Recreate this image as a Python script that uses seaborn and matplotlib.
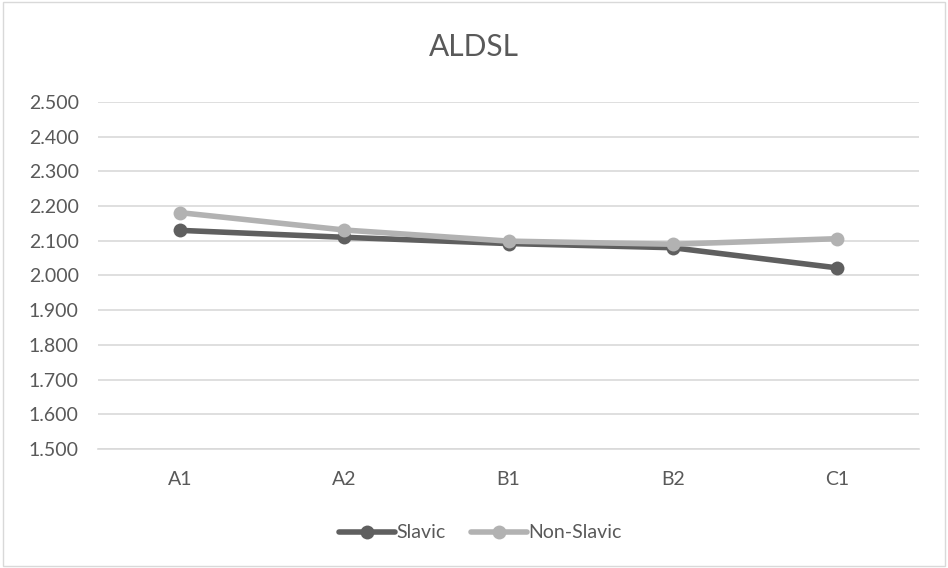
import matplotlib
matplotlib.use("Agg")
import matplotlib.pyplot as plt
import seaborn as sns
import pandas as pd

levels = ["A1", "A2", "B1", "B2", "C1"]
slavic = [2.130, 2.110, 2.092, 2.080, 2.022]
non_slavic = [2.181, 2.131, 2.099, 2.090, 2.106]
yticks = [1.5, 1.6, 1.7, 1.8, 1.9, 2.0, 2.1, 2.2, 2.3, 2.4, 2.5]

df = pd.DataFrame({
    "level": levels * 2,
    "value": slavic + non_slavic,
    "group": ["Slavic"] * 5 + ["Non-Slavic"] * 5,
})

sns.set_theme(style="white")
plt.rcParams['font.family'] = ['Lato', 'DejaVu Sans']

fig = plt.figure(figsize=(9.48, 5.68), dpi=100)
ax = fig.add_axes([0.1035, 0.2095, 0.866, 0.611])

palette = {"Slavic": "#5f5f5f", "Non-Slavic": "#b2b2b2"}
sns.lineplot(data=df, x="level", y="value", hue="group", palette=palette,
             hue_order=["Slavic", "Non-Slavic"], marker="o", markersize=10,
             markeredgewidth=0, linewidth=4, sort=False, ax=ax, legend=True)

ax.set_xlim(-0.5, 4.5)
ax.set_ylim(1.5, 2.5)
ax.set_yticks(yticks)
ax.set_yticklabels([f"{v:.3f}" for v in yticks])
ax.yaxis.grid(True, color="#d9d9d9", linewidth=1.2)
ax.set_axisbelow(True)
for s in ["top", "right", "left"]:
    ax.spines[s].set_visible(False)
ax.spines["bottom"].set_color("#d9d9d9")
ax.spines["bottom"].set_linewidth(1.2)
ax.tick_params(axis="both", length=0, labelsize=14, colors="#595959")
ax.tick_params(axis="y", pad=14)
ax.tick_params(axis="x", pad=16)
ax.set_xlabel("")
ax.set_ylabel("")

fig.text(0.5, 1 - 47.5 / 568, "ALDSL", ha="center", va="center", fontsize=21.5, color="#595959")

handles, labels = ax.get_legend_handles_labels()
ax.get_legend().remove()
leg = fig.legend(handles, labels, loc="center", bbox_to_anchor=(480 / 948, 1 - 533 / 568),
                 ncol=2, frameon=False, fontsize=14, handlelength=2.9, columnspacing=1.3,
                 handletextpad=0.05)
for t in leg.get_texts():
    t.set_color("#595959")

border = plt.Rectangle((0.003, 0.003), 0.994, 0.994, transform=fig.transFigure,
                       fill=False, edgecolor="#d9d9d9", linewidth=1)
fig.patches.append(border)

fig.savefig("out.png", dpi=100, facecolor="white")
